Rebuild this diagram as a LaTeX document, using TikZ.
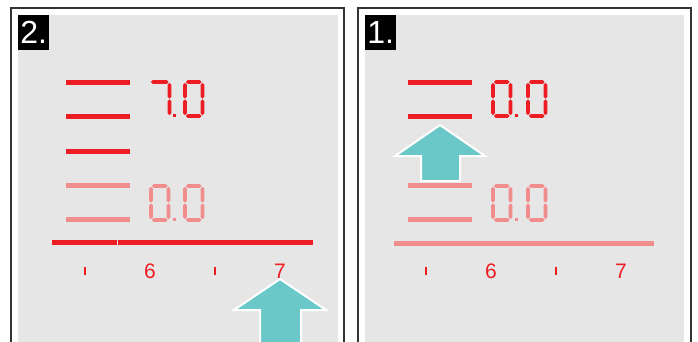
\documentclass[tikz,border=0pt]{standalone}
\usepackage{fontspec}
\setmainfont{Liberation Sans}
\usepackage{xcolor}
\usepackage{tikz}
\usetikzlibrary{positioning}

\definecolor{ledred}{HTML}{EE1D24}
\definecolor{ledpink}{HTML}{F18D8D}
\definecolor{panelgray}{HTML}{E6E6E6}
\definecolor{arrowteal}{HTML}{6BC8C8}

% seven segment pieces: x0, x1, yc / xc, y0, y1, colour
\newcommand{\hseg}[4]{\fill[#4] (#1,#3) -- (#1+1.9,#3-1.9) -- (#2-1.9,#3-1.9) -- (#2,#3) -- (#2-1.9,#3+1.9) -- (#1+1.9,#3+1.9) -- cycle;}
\newcommand{\vseg}[4]{\fill[#4] (#1,#2) -- (#1+1.9,#2+1.9) -- (#1+1.9,#3-1.9) -- (#1,#3) -- (#1-1.9,#3-1.9) -- (#1-1.9,#2+1.9) -- cycle;}
\newcommand{\digitzero}[3]{%
  \begin{scope}[shift={(#1,#2)}]
    \hseg{2.8}{18.7}{2}{#3}
    \hseg{2.8}{18.7}{36}{#3}
    \vseg{2}{2.8}{18.6}{#3}
    \vseg{2}{19.4}{35.2}{#3}
    \vseg{19.5}{2.8}{18.6}{#3}
    \vseg{19.5}{19.4}{35.2}{#3}
  \end{scope}}
\newcommand{\digitseven}[3]{%
  \begin{scope}[shift={(#1,#2)}]
    \hseg{0.8}{18.7}{2}{#3}
    \vseg{19.5}{2.8}{18.6}{#3}
    \vseg{19.5}{19.4}{35.2}{#3}
  \end{scope}}
\newcommand{\digitdot}[3]{\fill[#3] (#1+24.3,#2+34.2) rectangle ++(3,3);}

\begin{document}
\begin{tikzpicture}[
    x=1pt, y=-1pt,
    frame/.style={draw=black!80, line width=1.2pt},
    bar/.style={line width=4.7pt},
    tick/.style={line width=2pt, ledred},
    tag/.style={fill=black, text=white, font=\fontsize{32}{32}\selectfont, minimum width=31pt, minimum height=35pt, inner sep=0pt, anchor=north west},
    scalelbl/.style={text=ledred, font=\fontsize{21}{21}\selectfont, inner sep=0pt, anchor=base},
    upar/.style={fill=arrowteal, draw=white, line width=2pt, line join=miter}
]
\fill[white] (0,0) rectangle (698,342);
\useasboundingbox (0,0) rectangle (698,342);

% left panel (step 2)
\draw[frame] (11,343) -- (11,8) -- (344,8) -- (344,343);
\fill[panelgray] (18,15) rectangle (338,343);
\node[tag] (tagtwo) at (18,15) {2.};
\draw[bar, ledred] (66,82.3) -- (130,82.3);
\draw[bar, ledred] (66,116.5) -- (130,116.5);
\draw[bar, ledred] (66,151.5) -- (130,151.5);
\draw[bar, ledpink] (66,185.5) -- (130,185.5);
\draw[bar, ledpink] (66,219.5) -- (130,219.5);
\digitseven{150}{80}{ledred}
\digitdot{149}{80}{ledred}
\digitzero{183}{80}{ledred}
\digitzero{149}{184}{ledpink}
\digitdot{149}{184}{ledpink}
\digitzero{183}{184}{ledpink}
\draw[bar, ledred] (52,242.3) -- (116.5,242.3);
\draw[bar, ledred] (117.5,242.3) -- (313,242.3);
\draw[tick] (85,266.7) -- (85,274.7);
\draw[tick] (215,266.7) -- (215,274.7);
\node[scalelbl] (lsix) at (150,278) {6};
\node[scalelbl] (lseven) at (280,278) {7};
\draw[upar] (280,279) -- (326,310) -- (301,310) -- (301,346) -- (260,346) -- (260,310) -- (234,310) -- cycle;

% right panel (step 1)
\draw[frame] (358,343) -- (358,8) -- (691,8) -- (691,343);
\fill[panelgray] (365,15) rectangle (684,343);
\node[tag] (tagone) at (365,15) {1.};
\draw[bar, ledred] (408,82.3) -- (472,82.3);
\draw[bar, ledred] (408,116.5) -- (472,116.5);
\draw[bar, ledpink] (408,185.5) -- (472,185.5);
\draw[bar, ledpink] (408,219.5) -- (472,219.5);
\digitzero{491}{80}{ledred}
\digitdot{491}{80}{ledred}
\digitzero{526}{80}{ledred}
\digitzero{491}{184}{ledpink}
\digitdot{491}{184}{ledpink}
\digitzero{526}{184}{ledpink}
\draw[bar, ledpink] (394,243.5) -- (654,243.5);
\draw[tick] (426,266.7) -- (426,274.7);
\draw[tick] (556,266.7) -- (556,274.7);
\node[scalelbl] (rsix) at (491,278) {6};
\node[scalelbl] (rseven) at (621,278) {7};
\draw[upar] (440,125) -- (485,156) -- (460,156) -- (460,181) -- (421,181) -- (421,156) -- (395,156) -- cycle;
\end{tikzpicture}
\end{document}
